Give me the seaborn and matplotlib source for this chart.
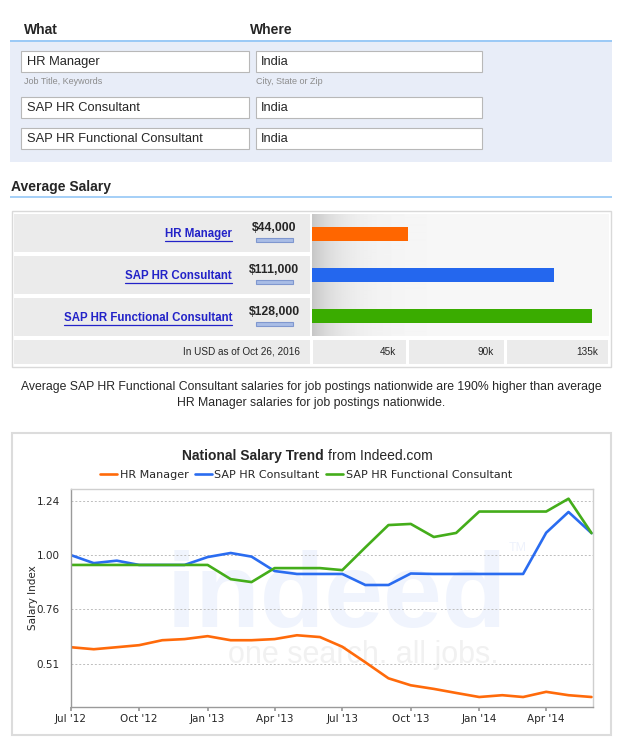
import numpy as np
import pandas as pd
import matplotlib
matplotlib.use('Agg')
import matplotlib.pyplot as plt
import matplotlib.dates as mdates
from matplotlib.patches import Rectangle
import seaborn as sns

# DATA
titles = ['HR Manager', 'SAP HR Consultant', 'SAP HR Functional Consultant']
locations = ['India', 'India', 'India']
salaries = [44000, 111000, 128000]
salary_labels = ['$44,000', '$111,000', '$128,000']
axis_tick_labels = ['45k', '90k', '135k']
bar_colors = ['#ff6600', '#2467ee', '#3aac00']
line_colors = ['#ff6a0a', '#2a6cf0', '#44ad1a']

months = pd.date_range('2012-07-01', '2014-06-01', freq='MS')
hr_manager = [0.591, 0.582, 0.591, 0.600, 0.622, 0.627, 0.640, 0.622, 0.622, 0.627, 0.644, 0.636,
              0.593, 0.524, 0.453, 0.422, 0.406, 0.388, 0.370, 0.378, 0.370, 0.393, 0.378, 0.370]
sap_hr = [1.000, 0.964, 0.975, 0.956, 0.956, 0.956, 0.991, 1.009, 0.993, 0.929, 0.916, 0.916,
          0.916, 0.867, 0.867, 0.918, 0.916, 0.916, 0.916, 0.916, 0.916, 1.099, 1.191, 1.097]
sap_func = [0.956, 0.956, 0.956, 0.956, 0.956, 0.956, 0.956, 0.893, 0.880, 0.942, 0.942, 0.942,
            0.933, 1.034, 1.133, 1.138, 1.080, 1.098, 1.193, 1.193, 1.193, 1.193, 1.250, 1.097]
ytick_vals = [0.5156, 0.76, 1.0, 1.2415]
ytick_labels = ['0.51', '0.76', '1.00', '1.24']

summary = ['Average SAP HR Functional Consultant salaries for job postings nationwide are 190% higher than average',
           'HR Manager salaries for job postings nationwide.']

sns.set_theme(style='white')
plt.rcParams['font.family'] = ['DejaVu Sans']
SANS = 'Liberation Sans'

W, H = 620, 743
fig = plt.figure(figsize=(W / 100, H / 100), dpi=100)
bg = fig.add_axes([0, 0, 1, 1])
bg.axis('off')


def px_axes(x0, y0, x1, y1):
    return fig.add_axes([x0 / W, 1 - y1 / H, (x1 - x0) / W, (y1 - y0) / H])


def box(x0, y0, x1, y1, fc, ec='none', lw=0, z=1):
    bg.add_patch(Rectangle((x0, y0), x1 - x0, y1 - y0, facecolor=fc,
                           edgecolor=ec, linewidth=lw, zorder=z))


# SEARCH FORM
bg.text(24, 30, 'What', fontsize=10, fontweight='bold', family=SANS, va='center')
bg.text(250, 30, 'Where', fontsize=10, fontweight='bold', family=SANS, va='center')
box(10, 41, 612, 162, '#e8edf8')
box(10, 39.5, 612, 42, '#9ccaf6')
for y, t, loc in zip([51, 97, 128], titles, locations):
    box(21, y, 249, y + 21, 'white', '#b8b8b8', 0.8, z=2)
    box(256, y, 482, y + 21, 'white', '#b8b8b8', 0.8, z=2)
    bg.text(27, y + 11, t, fontsize=9.3, family=SANS, va='center', zorder=3)
    bg.text(261, y + 11, loc, fontsize=9.3, family=SANS, va='center', zorder=3)
bg.text(24, 82, 'Job Title, Keywords', fontsize=6.5, family=SANS, color='#8c8c8c', va='center')
bg.text(256, 82, 'City, State or Zip', fontsize=6.5, family=SANS, color='#8c8c8c', va='center')

# AVERAGE SALARY TABLE
bg.text(11, 187, 'Average Salary', fontsize=10, fontweight='bold', family=SANS, va='center')
box(10, 196, 612, 198, '#a6d0f7')
box(12, 211, 611, 367, 'white', '#d9d9d9', 1)
links = []
for top, t, lab in zip([214, 256, 298], titles, salary_labels):
    box(14, top, 310, top + 38, '#ebebeb')
    links.append(bg.text(232, top + 20, t, fontsize=8.3, fontweight='bold', family=SANS,
                         color='#2323c8', ha='right', va='center', zorder=3))
    bg.text(274, top + 14, lab, fontsize=8.8, fontweight='bold', family=SANS,
            ha='center', va='center', zorder=3)
    box(256, top + 24, 293, top + 28, '#a9bde6', '#7f97cf', 0.8, z=3)
box(14, 340, 310, 364, '#ebebeb')
bg.text(300, 352, 'In USD as of Oct 26, 2016', fontsize=7.2, family=SANS, ha='right', va='center')
for (c0, c1), lab in zip([(313, 406), (409, 504), (507, 608)], axis_tick_labels):
    box(c0, 340, c1, 364, '#ebebeb')
    bg.text(c1 - 10, 352, lab, fontsize=7.2, family=SANS, ha='right', va='center')

# grey shading at the left of the bar area
shade = 0.968 - 0.19 * np.exp(-np.arange(297) / 28.0)
bg.imshow(shade[None, :], cmap='gray', vmin=0, vmax=1, aspect='auto',
          extent=(312, 609, 336, 214), zorder=1.5, interpolation='bilinear')
bg.set_xlim(0, W)
bg.set_ylim(H, 0)

axb = px_axes(312, 214, 609, 336)
axb.set_facecolor('none')
bars = pd.DataFrame({'title': titles, 'salary': salaries})
sns.barplot(data=bars, x='salary', y='title', hue='title', palette=bar_colors,
            legend=False, width=0.34, saturation=1, linewidth=0, edgecolor='none', ax=axb)
axb.set_xlim(0, 136000)
axb.set_ylim(2.5, -0.5)
axb.axis('off')

for i, line in enumerate(summary):
    bg.text(311, 387 + 16 * i, line, fontsize=8.8, family=SANS, ha='center', va='center')

# NATIONAL SALARY TREND
box(12, 433, 611, 735, 'white', '#dcdcdc', 1.5)
bg.text(324, 456, 'National Salary Trend', fontsize=10, fontweight='bold', family=SANS,
        ha='right', va='center')
bg.text(328, 456, 'from Indeed.com', fontsize=10, family=SANS, ha='left', va='center')
# watermark
bg.text(337, 627, 'indeed', fontsize=76, fontweight='bold', family=SANS, color='#f0f4fd',
        ha='center', va='baseline', zorder=2)
bg.text(518, 548, 'TM', fontsize=9, family=SANS, color='#eef2fc', ha='center', va='center', zorder=2)
bg.text(363, 663, 'one search. all jobs.', fontsize=22, family=SANS, color='#f1f1f1',
        ha='center', va='baseline', zorder=2)

axl = px_axes(70.7, 489, 592.7, 706.7)
axl.set_facecolor('none')
trend = pd.DataFrame({'month': np.tile(months, 3),
                      'value': hr_manager + sap_hr + sap_func,
                      'series': np.repeat(titles, len(months))})
sns.lineplot(data=trend, x='month', y='value', hue='series', palette=line_colors,
             linewidth=1.9, ax=axl)
axl.set_ylim(0.327, 1.293)
axl.set_yticks(ytick_vals)
axl.set_yticklabels(ytick_labels)
axl.set_xlim(months[0], months[-1] + pd.Timedelta(days=1.5))
axl.xaxis.set_major_locator(mdates.MonthLocator(bymonth=[1, 4, 7, 10]))
axl.xaxis.set_major_formatter(mdates.DateFormatter("%b '%y"))
axl.yaxis.grid(True, linestyle=(0, (2, 2)), color='#bdbdbd', linewidth=0.7)
axl.xaxis.grid(False)
for side in ['left', 'bottom']:
    axl.spines[side].set_color('#9a9a9a')
for side in ['top', 'right']:
    axl.spines[side].set_color('#cfcfcf')
for s in axl.spines.values():
    s.set_linewidth(1)
axl.tick_params(axis='x', labelsize=7.5, length=3, color='#9a9a9a', bottom=True, pad=2)
axl.tick_params(axis='y', labelsize=7.5, length=0, pad=8)
axl.set_xlabel('')
axl.set_ylabel('Salary Index', fontsize=7.5, labelpad=-1)
sns.move_legend(axl, 'center', bbox_to_anchor=(0.4508, 1.0643), ncol=3, title=None,
                frameon=False, fontsize=8, handlelength=1.5, handletextpad=0.25,
                columnspacing=0.6)

# underline the links
fig.canvas.draw()
inv = bg.transData.inverted()
for t in links:
    bb = t.get_window_extent()
    (x0, _), (x1, _) = inv.transform([[bb.x0, bb.y0], [bb.x1, bb.y1]])
    y = t.get_position()[1] + 6.5
    bg.plot([x0, x1], [y, y], color='#2323c8', linewidth=0.9, zorder=3)

fig.savefig('out.png', dpi=100)
